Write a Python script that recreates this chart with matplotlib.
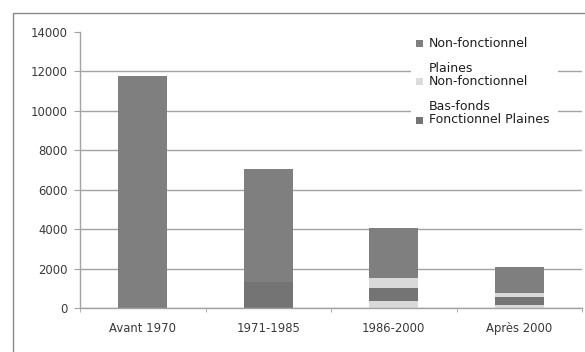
import matplotlib.pyplot as plt
from matplotlib.patches import Rectangle
from matplotlib.ticker import FixedLocator

# surfaces par période (ha)
categories = ["Avant 1970", "1971-1985", "1986-2000", "Après 2000"]
fonct_basfonds = [0, 0, 350, 140]
fonct_plaines = [0, 1330, 640, 400]
nonfonct_basfonds = [0, 0, 510, 200]
nonfonct_plaines = [11750, 5700, 2560, 1330]
yticks = [0, 2000, 4000, 6000, 8000, 10000, 12000, 14000]

W, H = 585, 352
fig = plt.figure(figsize=(W / 100, H / 100), dpi=100)
ax = fig.add_axes([80 / W, 1 - 308 / H, (582 - 80) / W, (308 - 32) / H])

series = [
    (fonct_basfonds, "#d9d9d9"),
    (fonct_plaines, "#747474"),
    (nonfonct_basfonds, "#d9d9d9"),
    (nonfonct_plaines, "#7f7f7f"),
]
x = range(len(categories))
bottom = [0] * len(categories)
for vals, col in series:
    ax.bar(x, vals, width=0.39, bottom=bottom, color=col, zorder=2)
    bottom = [b + v for b, v in zip(bottom, vals)]

ax.set_xlim(-0.5, len(categories) - 0.5)
ax.set_ylim(0, 14000)
ax.set_yticks(yticks)
ax.set_yticklabels([str(v) for v in yticks])
ax.set_xticks(list(x))
ax.set_xticklabels(categories)
ax.xaxis.set_minor_locator(FixedLocator([i - 0.5 for i in range(len(categories) + 1)]))

gc = "#a3a3a3"
ax.yaxis.grid(True, color=gc, lw=1)
ax.get_ygridlines()[-1].set_visible(False)
ax.set_axisbelow(True)
for s in ["top", "right"]:
    ax.spines[s].set_visible(False)
for s in ["left", "bottom"]:
    ax.spines[s].set_color(gc)
    ax.spines[s].set_linewidth(1)
ax.tick_params(axis="y", length=4, color=gc, labelsize=8.4, labelcolor="#3a3a3a", pad=5)
ax.tick_params(axis="x", which="major", length=0, labelsize=8.4, labelcolor="#3a3a3a", pad=10)
ax.tick_params(axis="x", which="minor", length=3, color=gc)

# légende
fig.patches.append(Rectangle((411 / W, 1 - 128 / H), (558 - 411) / W, (128 - 34) / H,
                             transform=fig.transFigure, fc="white", ec="none", zorder=3))
entries = [
    ("#7f7f7f", ["Non-fonctionnel", "Plaines"], 43.3),
    ("#dcdcdc", ["Non-fonctionnel", "Bas-fonds"], 81.5),
    ("#747474", ["Fonctionnel Plaines"], 120),
]
for col, lines, y0 in entries:
    fig.patches.append(Rectangle((416 / W, 1 - (y0 + 3.5) / H), 7 / W, 7 / H,
                                 transform=fig.transFigure, fc=col, ec="none", zorder=4))
    for k, t in enumerate(lines):
        fig.text(429 / W, 1 - (y0 + 25 * k) / H, t, fontsize=9, color="#1e1e1e",
                 va="center", ha="left", zorder=5)

# cadre du graphique
fig.patches.append(Rectangle((12.5 / W, -0.5), 2, 1 - 13.3 / H + 0.5,
                             transform=fig.transFigure, fill=False, ec="#8a8a8a", lw=1, zorder=1))

fig.savefig("out.png", dpi=100)
